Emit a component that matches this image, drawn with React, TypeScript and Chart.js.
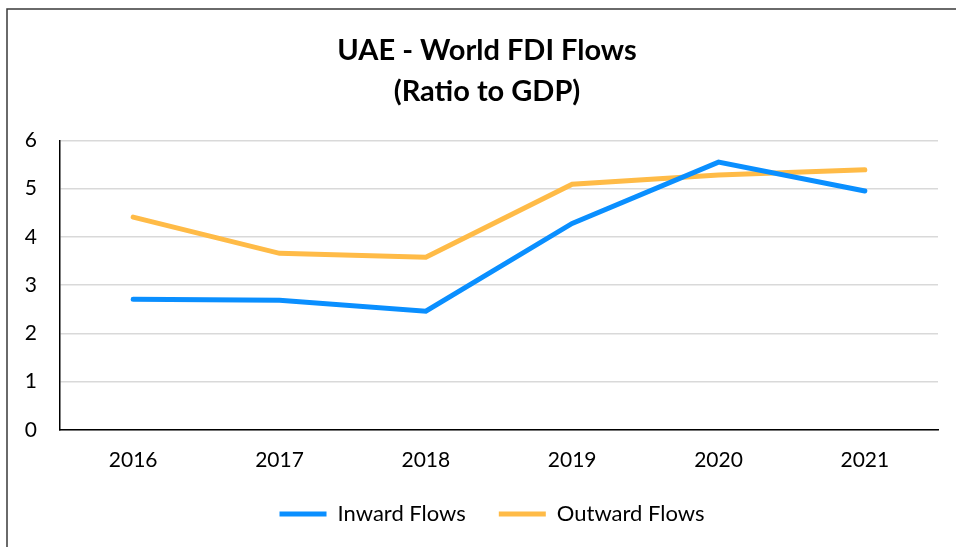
import React, { useEffect, useRef } from "react";
import { Chart, registerables } from "chart.js";

Chart.register(...registerables);

const years = ["2016", "2017", "2018", "2019", "2020", "2021"];
const inwardFlows = [2.71, 2.69, 2.46, 4.28, 5.55, 4.95];
const outwardFlows = [4.41, 3.66, 3.58, 5.09, 5.28, 5.39];
const titleLines = ["UAE - World FDI Flows", "(Ratio to GDP)"];

const FONT = "Lato, 'Open Sans', sans-serif";

const framePlugin = {
  id: "frame",
  afterLayout(chart: any) {
    if (chart.legend) chart.legend.left = 46;
    if (chart.titleBlock) chart.titleBlock.left = 36;
  },
  beforeDraw(chart: any) {
    const ctx = chart.ctx;
    ctx.save();
    ctx.strokeStyle = "#3a3a3a";
    ctx.lineWidth = 1.5;
    ctx.beginPath();
    ctx.moveTo(7, chart.height + 5);
    ctx.lineTo(7, 9);
    ctx.lineTo(chart.width + 5, 9);
    ctx.stroke();
    ctx.restore();
  },
};

export default function App() {
  const ref = useRef<HTMLCanvasElement | null>(null);
  useEffect(() => {
    if (!ref.current) return;
    const chart = new Chart(ref.current, {
      type: "line",
      data: {
        labels: years,
        datasets: [
          {
            label: "Inward Flows",
            data: inwardFlows,
            borderColor: "rgb(10,143,255)",
            backgroundColor: "rgb(10,143,255)",
            borderWidth: 5,
            borderCapStyle: "round",
            pointRadius: 0,
            tension: 0,
          },
          {
            label: "Outward Flows",
            data: outwardFlows,
            borderColor: "rgb(255,187,71)",
            backgroundColor: "rgb(255,187,71)",
            borderWidth: 5,
            borderCapStyle: "round",
            pointRadius: 0,
            tension: 0,
          },
        ],
      },
      options: {
        animation: false,
        responsive: false,
        maintainAspectRatio: false,
        layout: { padding: { left: 0, right: 18, top: 0, bottom: 12 } },
        plugins: {
          title: {
            display: true,
            text: titleLines,
            color: "#000",
            font: { family: FONT, size: 29, weight: "bold", lineHeight: 1.42 },
            padding: { top: 30, bottom: 28 },
          },
          legend: {
            position: "bottom",
            labels: {
              color: "#000",
              font: { family: FONT, size: 22 },
              boxWidth: 47,
              boxHeight: 5,
              padding: 33,
              useBorderRadius: true,
              borderRadius: 2.5,
              generateLabels(chart: any) {
                return chart.data.datasets.map((ds: any, i: number) => ({
                  text: ds.label,
                  fillStyle: ds.borderColor,
                  strokeStyle: ds.borderColor,
                  lineWidth: 0,
                  hidden: false,
                  datasetIndex: i,
                  fontColor: "#000",
                }));
              },
            },
          },
          tooltip: { enabled: false },
        },
        scales: {
          x: {
            offset: true,
            grid: { display: false, drawTicks: false },
            border: { color: "#000", width: 1.5 },
            ticks: { color: "#000", font: { family: FONT, size: 21 }, padding: 18 },
            afterFit(scale: any) {
              scale.height = 40;
            },
          },
          y: {
            min: 0,
            max: 6,
            ticks: { stepSize: 1, color: "#000", font: { family: FONT, size: 21 }, padding: 23 },
            grid: { color: "#d9d9d9", lineWidth: 1.5, drawTicks: false },
            border: { color: "#000", width: 1.5 },
            afterFit(scale: any) {
              scale.width = 60;
            },
          },
        },
      },
      plugins: [framePlugin],
    } as any);
    return () => chart.destroy();
  }, []);
  return (
    <div style={{ position: "absolute", left: 0, top: 0, width: 956, height: 547, background: "#fff" }}>
      <canvas ref={ref} width={956} height={547} style={{ width: 956, height: 547 }} />
    </div>
  );
}
